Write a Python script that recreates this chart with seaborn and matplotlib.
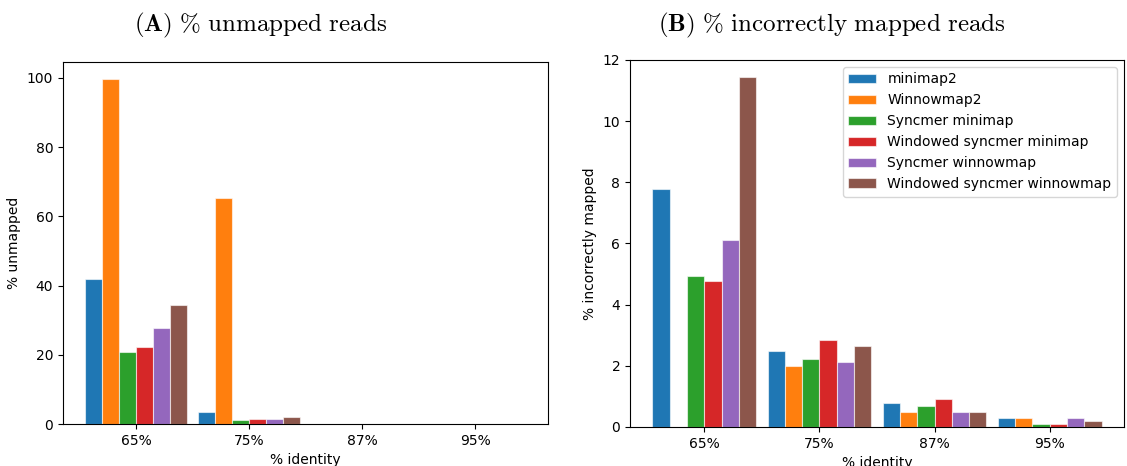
import numpy as np
import pandas as pd
import matplotlib
matplotlib.use("Agg")
import matplotlib.pyplot as plt
import seaborn as sns

identities = ["65%", "75%", "87%", "95%"]
methods = ["minimap2", "Winnowmap2", "Syncmer minimap", "Windowed syncmer minimap",
           "Syncmer winnowmap", "Windowed syncmer winnowmap"]

# % unmapped reads, one list per method (65, 75, 87, 95 % identity)
unmapped_minimap2 = [41.9, 3.6, 0.0, 0.0]
unmapped_winnowmap2 = [99.7, 65.2, 0.1, 0.0]
unmapped_syncmer_minimap = [20.9, 1.2, 0.0, 0.0]
unmapped_wsync_minimap = [22.2, 1.4, 0.0, 0.0]
unmapped_syncmer_winnowmap = [27.8, 1.4, 0.0, 0.0]
unmapped_wsync_winnowmap = [34.3, 1.9, 0.0, 0.0]

# % incorrectly mapped reads
wrong_minimap2 = [7.77, 2.49, 0.80, 0.30]
wrong_winnowmap2 = [np.nan, 2.00, 0.50, 0.30]
wrong_syncmer_minimap = [4.94, 2.23, 0.70, 0.10]
wrong_wsync_minimap = [4.77, 2.83, 0.90, 0.09]
wrong_syncmer_winnowmap = [6.11, 2.13, 0.50, 0.30]
wrong_wsync_winnowmap = [11.44, 2.66, 0.50, 0.20]

unmapped = [unmapped_minimap2, unmapped_winnowmap2, unmapped_syncmer_minimap,
            unmapped_wsync_minimap, unmapped_syncmer_winnowmap, unmapped_wsync_winnowmap]
wrong = [wrong_minimap2, wrong_winnowmap2, wrong_syncmer_minimap,
         wrong_wsync_minimap, wrong_syncmer_winnowmap, wrong_wsync_winnowmap]


def to_long(series):
    rows = []
    for m, vals in zip(methods, series):
        for ident, v in zip(identities, vals):
            rows.append({"identity": ident, "method": m, "value": v})
    return pd.DataFrame(rows)


plt.rcParams["mathtext.fontset"] = "cm"
fig = plt.figure(figsize=(11.27, 4.66), dpi=100)
ax1 = fig.add_axes([0.0559, 0.0901, 0.4304, 0.7769])
ax2 = fig.add_axes([0.5590, 0.0837, 0.4383, 0.7876])

palette = sns.color_palette("tab10", 6)

for ax, series in [(ax1, unmapped), (ax2, wrong)]:
    sns.barplot(data=to_long(series), x="identity", y="value", hue="method",
                order=identities, hue_order=methods, palette=palette,
                saturation=1, width=0.9, edgecolor=(1, 1, 1, 0.6), linewidth=0.8,
                ax=ax)
    ax.set_xlim(-0.645, 3.645)
    ax.set_xlabel("% identity", fontsize=10)

ax1.set_ylim(0, 104.6)
ax1.set_ylabel("% unmapped", fontsize=10)
ax1.legend_.remove()

ax2.set_ylim(0, 12)
ax2.set_ylabel("% incorrectly mapped", fontsize=10)
ax2.legend(loc="upper right", fontsize=10, title=None)

# panel titles sit a bit left of the axes centres in the original
fig.text(0.231, 0.945, r"$(\mathbf{A})\ \%\ \mathrm{unmapped\ reads}$",
         fontsize=18, ha="center", va="center")
fig.text(0.738, 0.945, r"$(\mathbf{B})\ \%\ \mathrm{incorrectly\ mapped\ reads}$",
         fontsize=18, ha="center", va="center")

fig.savefig("out.png", dpi=100)
plt.close(fig)
